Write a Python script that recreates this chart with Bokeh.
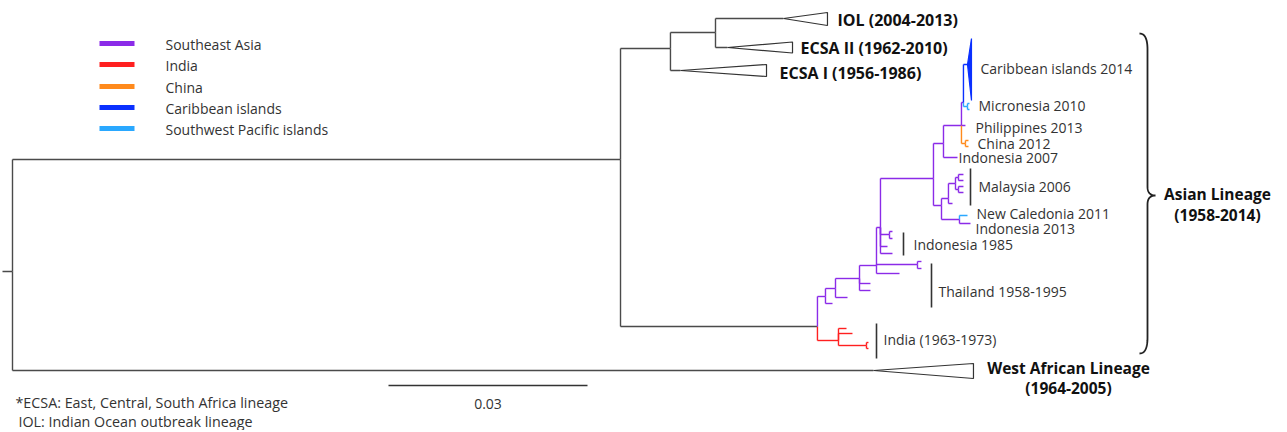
import numpy as np
from bokeh.plotting import figure
from bokeh.models import Range1d, ColumnDataSource
from bokeh.embed import file_html
from bokeh.resources import INLINE
from bokeh.core.properties import value

# ---------------- data ----------------
# Tree nodes: depth = distance from root (substitutions/site), row = vertical tip position
node_name = ["root", "A", "B", "C", "D",
             "IND", "ind1", "ind2", "IN2", "in2a", "in2b",
             "P1", "p1l", "P2", "p2l", "P3", "p3a", "p3b", "P4", "p4l", "TH", "tha", "thb",
             "P5", "I85", "i85a", "i85b", "i85c", "i85d",
             "Q", "O", "ind07", "N", "phil", "CH", "cha", "chb",
             "M", "MIC", "mica", "micb",
             "R", "S", "sl", "S1", "S2", "s2a", "s2b", "S3", "s3a", "s3b",
             "T", "nc", "ind13"]
node_parent = [None, "root", "A", "B", "A",
               "D", "IND", "IND", "IND", "IN2", "IN2",
               "D", "P1", "P1", "P2", "P2", "P3", "P3", "P3", "P4", "P4", "TH", "TH",
               "P4", "P5", "I85", "I85", "P5", "P5",
               "P5", "Q", "O", "O", "N", "N", "CH", "CH",
               "N", "M", "MIC", "MIC",
               "Q", "R", "S", "S", "S1", "S2", "S2", "S1", "S3", "S3",
               "R", "T", "T"]
node_depth = [0.0, 0.09166, 0.09919, 0.10598, 0.12135,
              0.12452, 0.12573, 0.12663, 0.12874, 0.12904, 0.12904,
              0.12256, 0.12362, 0.12407, 0.12588, 0.12769, 0.12934, 0.12934, 0.13025, 0.13372, 0.13643, 0.13703, 0.13703,
              0.13085, 0.13221, 0.13266, 0.13266, 0.13191, 0.13266,
              0.13884, 0.14035, 0.14246, 0.14306, 0.14366, 0.14366, 0.14412, 0.14412,
              0.14336, 0.14397, 0.14427, 0.14427,
              0.14005, 0.14110, 0.14171, 0.14216, 0.14261, 0.14336, 0.14336, 0.14261, 0.14336, 0.14336,
              0.14276, 0.14397, 0.14442]
node_row = [271, 159, 48, 32, 326,
            340, 328, 333, 345, 342, 348,
            296, 303, 288, 297, 278, 283, 290, 265, 273, 264, 261, 268,
            227, 234, 231, 238, 246, 253,
            178, 143, 157, 125, 125, 143, 140, 146,
            102, 106, 103, 109,
            205, 198, 203, 183, 177, 174, 180, 189, 186, 192,
            219, 215, 223]
node_region = ["none", "none", "none", "none", "none",
               "India", "India", "India", "India", "India", "India",
               "Southeast Asia", "Southeast Asia", "Southeast Asia", "Southeast Asia", "Southeast Asia",
               "Southeast Asia", "Southeast Asia", "Southeast Asia", "Southeast Asia", "Southeast Asia",
               "Southeast Asia", "Southeast Asia",
               "Southeast Asia", "Southeast Asia", "Southeast Asia", "Southeast Asia", "Southeast Asia", "Southeast Asia",
               "Southeast Asia", "Southeast Asia", "Southeast Asia", "Southeast Asia", "Southeast Asia",
               "China", "China", "China",
               "Southeast Asia", "Southwest Pacific islands", "Southwest Pacific islands", "Southwest Pacific islands",
               "Southeast Asia", "Southeast Asia", "Southeast Asia", "Southeast Asia", "Southeast Asia",
               "Southeast Asia", "Southeast Asia", "Southeast Asia", "Southeast Asia", "Southeast Asia",
               "Southeast Asia", "Southwest Pacific islands", "Southeast Asia"]

# Collapsed clades (triangles)
clade_name = ["IOL (2004-2013)", "ECSA II (1962-2010)", "ECSA I (1956-1986)",
              "West African Lineage", "Caribbean islands 2014"]
clade_parent = ["C", "C", "B", "root", "M"]
clade_apex = [0.11623, 0.10779, 0.10070, 0.12980, 0.14397]
clade_base = [0.12286, 0.11759, 0.11367, 0.14487, 0.14457]
clade_row = [18, 47, 70, 370, 64]
clade_top = [12, 41.5, 64, 363, 38]
clade_bottom = [25, 52.5, 76, 378, 100]
clade_region = ["none", "none", "none", "none", "Caribbean islands"]

# Legend
regions = ["Southeast Asia", "India", "China", "Caribbean islands", "Southwest Pacific islands"]
region_colors = ["#8B2BE8", "#FF2020", "#FF8A1C", "#0A30FF", "#2AA8FF"]

# Tip labels
tip_labels = ["Caribbean islands 2014", "Micronesia 2010", "Philippines 2013", "China 2012",
              "Indonesia 2007", "Malaysia 2006", "New Caledonia 2011", "Indonesia 2013",
              "Indonesia 1985", "Thailand 1958-1995", "India (1963-1973)"]

scale_value = 0.03

# ---------------- layout helpers ----------------
KPX = 0.03 / 199.0          # substitutions per reference pixel


def X(px):                   # page pixel -> data x
    return (px - 12) * KPX


COL = dict(zip(regions, region_colors))
COL["none"] = "#4a4a4a"

W, H = 1285, 430
p = figure(width=W, height=H, output_backend="svg", toolbar_location=None,
           x_range=Range1d(X(0), X(W)), y_range=Range1d(H, 0),
           min_border=0)
p.axis.visible = False
p.grid.visible = False
p.outline_line_color = None
p.background_fill_color = "white"

# ---------------- tree ----------------
idx = {n: i for i, n in enumerate(node_name)}
segs = {"x0": [], "y0": [], "x1": [], "y1": [], "c": [], "k": []}


def seg(x0, y0, x1, y1, c):
    segs["x0"].append(x0); segs["y0"].append(y0)
    segs["x1"].append(x1); segs["y1"].append(y1)
    segs["c"].append(c); segs["k"].append(0 if c == COL["none"] else 1)


root = idx["root"]
seg(X(2), node_row[root], node_depth[root], node_row[root], COL["none"])
for i, n in enumerate(node_name):
    par = node_parent[i]
    if par is None:
        continue
    j = idx[par]
    c = COL[node_region[i]]
    seg(node_depth[j], node_row[i], node_depth[i], node_row[i], c)
    seg(node_depth[j], node_row[j], node_depth[j], node_row[i], c)

for i in range(len(clade_name)):
    j = idx[clade_parent[i]]
    c = COL[clade_region[i]]
    seg(node_depth[j], clade_row[i], clade_apex[i], clade_row[i], c)
    seg(node_depth[j], node_row[j], node_depth[j], clade_row[i], c)

order = np.argsort(segs["k"], kind="stable")
src = ColumnDataSource({k: [v[o] for o in order] for k, v in segs.items()})
p.segment("x0", "y0", "x1", "y1", source=src, line_color="c", line_width=1.4)

# triangles
tri_xs, tri_ys, tri_fill = [], [], []
for i in range(len(clade_name)):
    tri_xs.append([clade_apex[i], clade_base[i], clade_base[i]])
    tri_ys.append([clade_row[i], clade_top[i], clade_bottom[i]])
    tri_fill.append("white" if clade_region[i] == "none" else COL[clade_region[i]])
tri_line = ["#333333" if f == "white" else f for f in tri_fill]
p.patches(tri_xs, tri_ys, fill_color=tri_fill, line_color=tri_line, line_width=1.2)

FONT = value("Open Sans")

# collapsed clade labels (bold)
p.text(x=[X(837), X(800), X(779)], y=[19, 47, 72],
       text=clade_name[:3], text_font=FONT, text_font_style="bold",
       text_font_size=value("16px"), text_baseline="middle", text_align="left",
       text_color="#111111")
p.text(x=[X(1068), X(1068)], y=[367, 387], text=[clade_name[3], "(1964-2005)"],
       text_font=FONT, text_font_style="bold", text_font_size=value("15.5px"),
       text_baseline="middle", text_align="center", text_color="#111111")
p.text(x=[X(1217), X(1217)], y=[193, 214], text=["Asian Lineage", "(1958-2014)"],
       text_font=FONT, text_font_style="bold", text_font_size=value("15.5px"),
       text_baseline="middle", text_align="center", text_color="#111111")

# tip labels
tip_x = [980, 978, 975, 977, 958, 978, 976, 975, 913, 938, 883]
tip_y = [68, 105, 127, 143, 157, 186, 213, 228, 244, 291, 339]
p.text(x=[X(v) for v in tip_x], y=tip_y, text=tip_labels, text_font=FONT,
       text_font_size=value("14px"), text_baseline="middle", text_align="left",
       text_color="#333333")

# group bars
bx = [970, 903, 931, 876]
by0 = [168, 232, 263, 323]
by1 = [205, 255, 307, 358]
p.segment(x0=[X(v) for v in bx], y0=by0, x1=[X(v) for v in bx], y1=by1,
          line_color="#333333", line_width=1.6)


# curly brace
def qb(p0, c, p1, n=24):
    t = np.linspace(0, 1, n)[:, None]
    return (1 - t) ** 2 * np.array(p0) + 2 * (1 - t) * t * np.array(c) + t ** 2 * np.array(p1)


xe, xs, xt = 1139, 1147, 1155
y0b, ymb, y1b, r, r2 = 33, 195, 353, 16, 9
pts = np.vstack([
    qb((xe, y0b), (xs, y0b), (xs, y0b + r)),
    qb((xs, ymb - r2), (xs, ymb), (xt, ymb)),
    qb((xt, ymb), (xs, ymb), (xs, ymb + r2)),
    qb((xs, y1b - r), (xs, y1b), (xe, y1b)),
])
p.line([X(v) for v in pts[:, 0]], pts[:, 1], line_color="#222222", line_width=1.8)

# legend
ly = [43, 64, 86, 107, 128]
p.segment(x0=[X(99)] * 5, y0=ly, x1=[X(134)] * 5, y1=ly,
          line_color=region_colors, line_width=5)
p.text(x=[X(165)] * 5, y=[v + 1 for v in ly], text=regions, text_font=FONT,
       text_font_size=value("14px"), text_baseline="middle", text_align="left",
       text_color="#333333")

# scale bar
sb0 = X(388)
p.segment(x0=[sb0], y0=[385], x1=[sb0 + scale_value], y1=[385],
          line_color="#333333", line_width=1.4)
p.text(x=[sb0 + scale_value / 2], y=[403], text=["%.2f" % scale_value], text_font=FONT,
       text_font_size=value("14px"), text_baseline="middle", text_align="center",
       text_color="#333333")

# footnote
p.text(x=[X(15), X(18)], y=[402, 421],
       text=["*ECSA: East, Central, South Africa lineage", "IOL: Indian Ocean outbreak lineage"],
       text_font=FONT, text_font_size=value("14.3px"), text_baseline="middle",
       text_align="left", text_color="#333333")

open("out.html", "w").write(file_html(p, INLINE))
